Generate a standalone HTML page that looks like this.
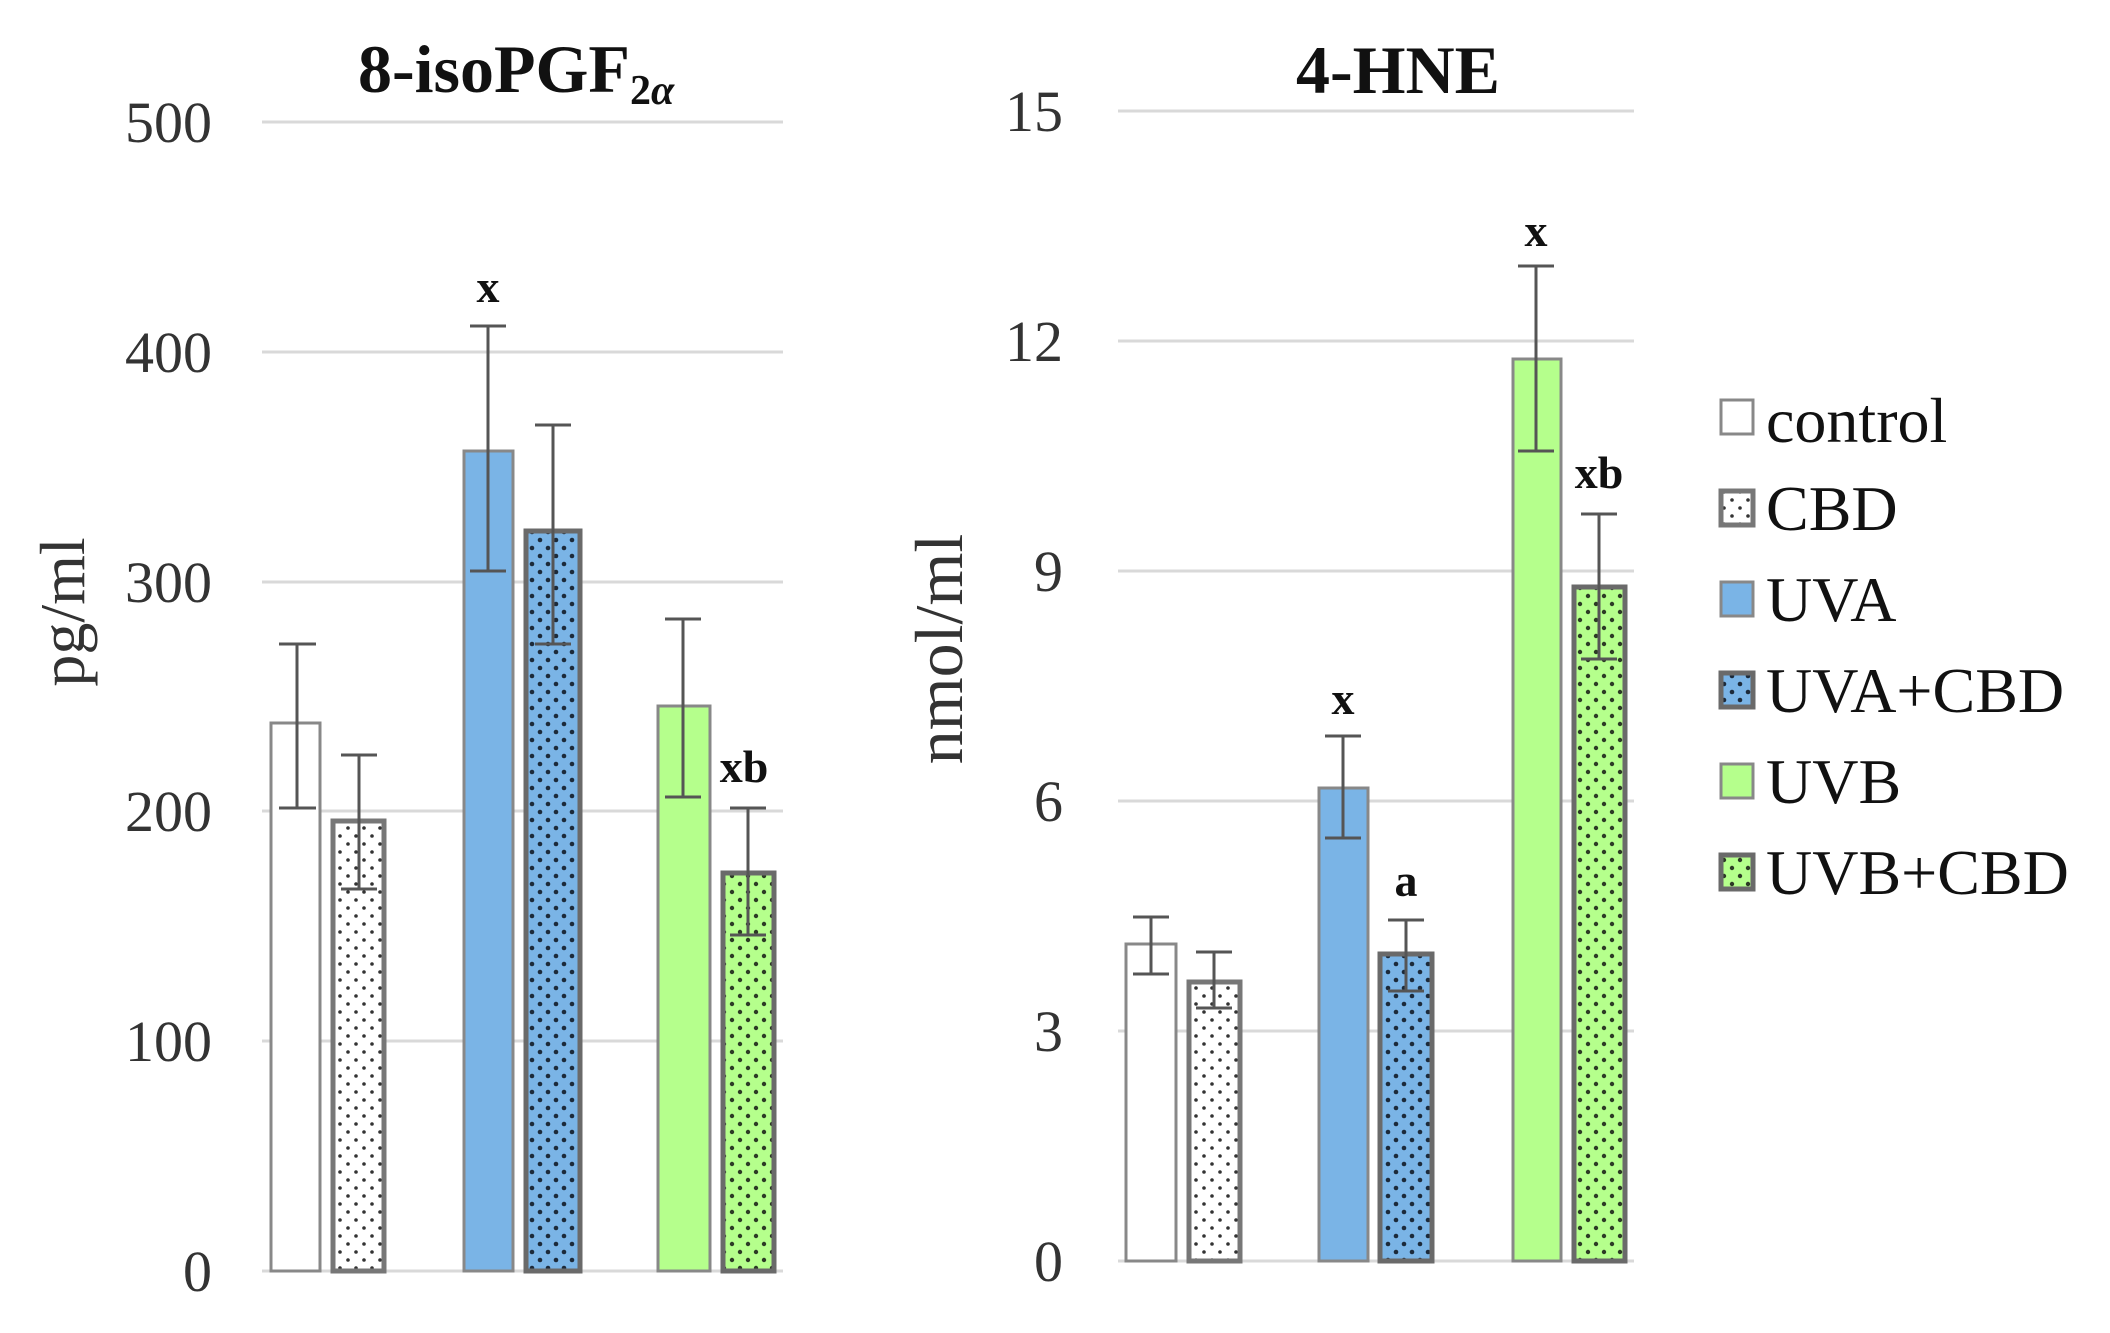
<!DOCTYPE html>
<html><head><meta charset="utf-8"><style>html,body{margin:0;padding:0;background:#fff}svg{display:block}</style></head>
<body>
<svg width="2110" height="1333" viewBox="0 0 2110 1333" xmlns="http://www.w3.org/2000/svg" font-family="Liberation Serif, serif">
<defs>
<pattern id="pw" width="16" height="16" patternUnits="userSpaceOnUse"><rect width="16" height="16" fill="#fff"/><circle cx="4" cy="4" r="1.8" fill="#333"/><circle cx="12" cy="12" r="1.8" fill="#333"/></pattern>
<pattern id="pb" width="16" height="16" patternUnits="userSpaceOnUse"><rect width="16" height="16" fill="#7ab4e6"/><circle cx="4" cy="4" r="2.3" fill="#1c2a3a"/><circle cx="12" cy="12" r="2.3" fill="#1c2a3a"/></pattern>
<pattern id="pg" width="16" height="16" patternUnits="userSpaceOnUse"><rect width="16" height="16" fill="#b5ff8c"/><circle cx="4" cy="4" r="2.2" fill="#2c3a25"/><circle cx="12" cy="12" r="2.2" fill="#2c3a25"/></pattern>
</defs>
<g stroke="#d9d9d9" stroke-width="3">
<line x1="262" y1="122" x2="783" y2="122"/><line x1="262" y1="352" x2="783" y2="352"/><line x1="262" y1="582" x2="783" y2="582"/><line x1="262" y1="811" x2="783" y2="811"/><line x1="262" y1="1041" x2="783" y2="1041"/><line x1="262" y1="1271" x2="783" y2="1271"/>
<line x1="1118" y1="111" x2="1634" y2="111"/><line x1="1118" y1="341" x2="1634" y2="341"/><line x1="1118" y1="571" x2="1634" y2="571"/><line x1="1118" y1="801" x2="1634" y2="801"/><line x1="1118" y1="1031" x2="1634" y2="1031"/><line x1="1118" y1="1261" x2="1634" y2="1261"/>
</g>
<g font-size="58" fill="#333" text-anchor="end">
<text x="212" y="142">500</text><text x="212" y="372">400</text><text x="212" y="602">300</text><text x="212" y="831">200</text><text x="212" y="1061">100</text><text x="212" y="1291">0</text>
<text x="1063" y="131">15</text><text x="1063" y="361">12</text><text x="1063" y="591">9</text><text x="1063" y="821">6</text><text x="1063" y="1051">3</text><text x="1063" y="1281">0</text>
</g>
<text transform="translate(84,612) rotate(-90)" font-size="64" fill="#333" text-anchor="middle">pg/ml</text>
<text transform="translate(962,649) rotate(-90)" font-size="68" fill="#333" text-anchor="middle">nmol/ml</text>
<text x="358" y="92" font-size="68" font-weight="bold" fill="#111">8-isoPGF<tspan font-size="42" dy="12">2</tspan><tspan font-size="42" font-style="italic">α</tspan></text>
<text x="1398" y="93" font-size="68" font-weight="bold" fill="#111" text-anchor="middle">4-HNE</text>
<g stroke-width="3">
<rect x="271" y="723" width="49" height="548" fill="#fff" stroke="#888"/>
<rect x="333" y="821" width="51" height="450" fill="url(#pw)" stroke="#777" stroke-width="5"/>
<rect x="464" y="451" width="49" height="820" fill="#7ab4e6" stroke="#888"/>
<rect x="526" y="531" width="54" height="740" fill="url(#pb)" stroke="#6a6a6a" stroke-width="5"/>
<rect x="658" y="706" width="52" height="565" fill="#b5ff8c" stroke="#888"/>
<rect x="723" y="873" width="51" height="398" fill="url(#pg)" stroke="#6a6a6a" stroke-width="5"/>
</g>
<g stroke="#555" stroke-width="3">
<path d="M297 644V808M279 644H316M279 808H316"/>
<path d="M359 755V889M341 755H377M341 889H377"/>
<path d="M488 326V571M470 326H506M470 571H506"/>
<path d="M553 425V644M535 425H571M535 644H571"/>
<path d="M683 619V797M665 619H701M665 797H701"/>
<path d="M748 808V935M730 808H766M730 935H766"/>
</g>
<g stroke-width="3">
<rect x="1126" y="944" width="50" height="317" fill="#fff" stroke="#888"/>
<rect x="1189" y="982" width="51" height="279" fill="url(#pw)" stroke="#777" stroke-width="5"/>
<rect x="1319" y="788" width="49" height="473" fill="#7ab4e6" stroke="#888"/>
<rect x="1380" y="954" width="52" height="307" fill="url(#pb)" stroke="#6a6a6a" stroke-width="5"/>
<rect x="1513" y="359" width="48" height="902" fill="#b5ff8c" stroke="#888"/>
<rect x="1574" y="587" width="51" height="674" fill="url(#pg)" stroke="#6a6a6a" stroke-width="5"/>
</g>
<g stroke="#555" stroke-width="3">
<path d="M1151 917V974M1133 917H1169M1133 974H1169"/>
<path d="M1214 952V1008M1196 952H1232M1196 1008H1232"/>
<path d="M1343 736V838M1325 736H1361M1325 838H1361"/>
<path d="M1406 920V991M1388 920H1424M1388 991H1424"/>
<path d="M1536 266V451M1518 266H1554M1518 451H1554"/>
<path d="M1599 514V659M1581 514H1617M1581 659H1617"/>
</g>
<g font-size="46" font-weight="bold" fill="#111" text-anchor="middle">
<text x="488" y="302">x</text><text x="744" y="782">xb</text>
<text x="1343" y="714">x</text><text x="1406" y="896">a</text><text x="1536" y="246">x</text><text x="1599" y="488">xb</text>
</g>
<g stroke-width="3">
<rect x="1721" y="400" width="32" height="34" fill="#fff" stroke="#888"/>
<rect x="1721" y="491" width="32" height="34" fill="url(#pw)" stroke="#777" stroke-width="5"/>
<rect x="1721" y="582" width="32" height="34" fill="#7ab4e6" stroke="#888"/>
<rect x="1721" y="673" width="32" height="34" fill="url(#pb)" stroke="#6a6a6a" stroke-width="5"/>
<rect x="1721" y="764" width="32" height="34" fill="#b5ff8c" stroke="#888"/>
<rect x="1721" y="855" width="32" height="34" fill="url(#pg)" stroke="#6a6a6a" stroke-width="5"/>
</g>
<g font-size="64" fill="#111">
<text x="1766" y="442">control</text>
<text x="1766" y="530">CBD</text>
<text x="1766" y="621">UVA</text>
<text x="1766" y="712">UVA+CBD</text>
<text x="1766" y="803">UVB</text>
<text x="1766" y="894">UVB+CBD</text>
</g>
</svg>
</body></html>
